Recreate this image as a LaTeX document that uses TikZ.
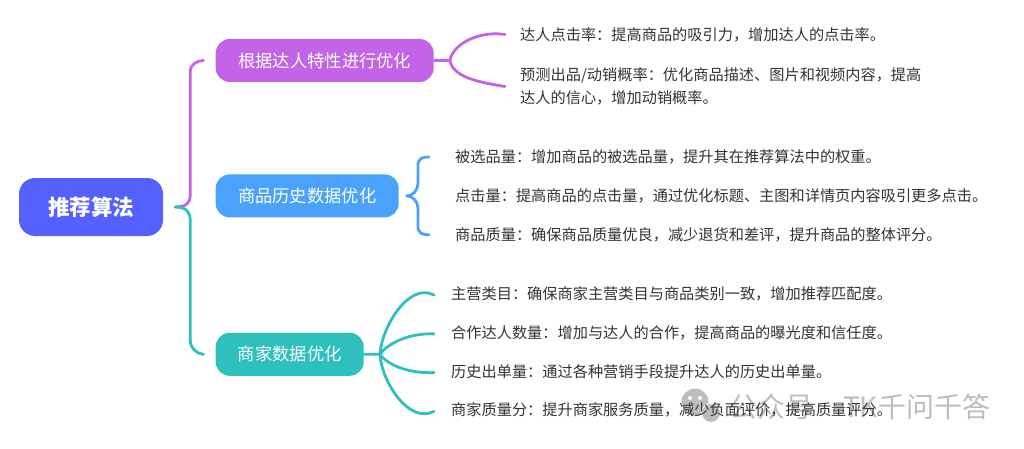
\documentclass[tikz,border=0pt]{standalone}
\usepackage{fontspec}
\setmainfont{Noto Sans CJK SC}
\usetikzlibrary{positioning}
\definecolor{purplebr}{HTML}{C263E8}
\definecolor{bluebr}{HTML}{4AA2FA}
\definecolor{tealbr}{HTML}{2EC0BC}
\definecolor{rootblue}{HTML}{5561FF}
\definecolor{leafgray}{HTML}{333333}
\definecolor{markgray}{HTML}{BDBDBD}
\begin{document}
\begin{tikzpicture}
[x=1pt,y=-1pt,
rootbox/.style={fill=rootblue,text=white,rounded corners=16pt,minimum width=144pt,minimum height=58pt,inner sep=0pt,font=\fontsize{21.5}{26}\selectfont\bfseries},
branchbox/.style={text=white,rounded corners=14pt,minimum height=43pt,inner sep=0pt,font=\fontsize{17.3}{21}\selectfont},
leaf/.style={text=leafgray,inner sep=0pt,align=left,font=\fontsize{15.2}{23}\selectfont},
wire/.style={line width=2.8pt,line cap=round},
bubble/.style={circle,inner sep=0pt,fill=markgray},
mark text/.style={text=markgray,inner sep=0pt,font=\fontsize{28}{32}\selectfont}]
\useasboundingbox (0,0) rectangle (1024,449);
\node[bubble,minimum size=27pt](big) at (695,402){};
\node[bubble,minimum size=4pt,fill=white](eye1) at (690,398){};
\node[bubble,minimum size=4pt,fill=white](eye2) at (700,398){};
\node[bubble,minimum size=19pt,draw=white,line width=1pt](small) at (711,413){};
\node[mark text,anchor=west](m1) at (729,407){公众号};
\node[mark text,anchor=west](m2) at (843,407){TK千问千答};
\node[rootbox](root) at (91,207){推荐算法};
\node[branchbox,fill=purplebr,minimum width=218pt,anchor=west](b1) at (215.5,60.5){根据达人特性进行优化};
\node[branchbox,fill=bluebr,minimum width=183pt,below =92pt of b1.south west,anchor=north west](b2){商品历史数据优化};
\node[branchbox,fill=tealbr,minimum width=148pt,below =115pt of b2.south west,anchor=north west](b3){商家数据优化};
\node[leaf,anchor=west](l1) at (520,34.5){达人点击率：提高商品的吸引力，增加达人的点击率。};
\node[leaf,anchor=west](l2) at (520,86.5){预测出品/动销概率：优化商品描述、图片和视频内容，提高\\达人的信心，增加动销概率。};
\node[leaf,anchor=west](l3) at (455,157){被选品量：增加商品的被选品量，提升其在推荐算法中的权重。};
\node[leaf,below =24pt of l3.south west,anchor=north west](l4){点击量：提高商品的点击量，通过优化标题、主图和详情页内容吸引更多点击。};
\node[leaf,below =24pt of l4.south west,anchor=north west](l5){商品质量：确保商品质量优良，减少退货和差评，提升商品的整体评分。};
\node[leaf,anchor=west](l6) at (451,294){主营类目：确保商家主营类目与商品类别一致，增加推荐匹配度。};
\node[leaf,below =24pt of l6.south west,anchor=north west](l7){合作达人数量：增加与达人的合作，提高商品的曝光度和信任度。};
\node[leaf,below =24pt of l7.south west,anchor=north west](l8){历史出单量：通过各种营销手段提升达人的历史出单量。};
\node[leaf,below =24pt of l8.south west,anchor=north west](l9){商家质量分：提升商家服务质量，减少负面评价，提高质量评分。};
\draw[wire,purplebr] ([xshift=12pt]root.east) .. controls +(11,0) and +(0,8) .. ++(15,-12) -- ++(0,-123) .. controls +(0,-8) and +(-6,0) .. ([xshift=-12pt]b1.west);
\draw[wire,tealbr] ([xshift=12pt]root.east) .. controls +(11,0) and +(0,-8) .. ++(15,13) -- ++(0,120) .. controls +(0,8) and +(-6,0) .. ([xshift=-12pt]b3.west);
\draw[wire,purplebr] (b1.east) -- ++(16,0) coordinate (s1) .. controls +(3,-17) and +(-25,-4) .. ([xshift=-15pt]l1.west);
\draw[wire,purplebr] (s1) .. controls +(3,17) and +(-25,-4) .. ([xshift=-15pt]l2.west);
\draw[wire,bluebr] ([xshift=8pt]b2.east) .. controls +(6,0) and +(0,6) .. ++(11,-12) -- ++(0,-18) .. controls +(0,-8) and +(-6,0) .. ([xshift=-26pt]l3.west);
\draw[wire,bluebr] ([xshift=8pt]b2.east) .. controls +(6,0) and +(0,-6) .. ++(11,12) -- ++(0,18) .. controls +(0,8) and +(-6,0) .. ([xshift=-26pt]l5.west);
\draw[wire,tealbr] (b3.east) -- ++(16,0) coordinate (s3) .. controls +(2,-28) and +(-25,-13) .. ([xshift=-17pt,yshift=-1pt]l6.west);
\draw[wire,tealbr] (s3) .. controls +(8,-11) and +(-25,-1) .. ([xshift=-17pt,yshift=-1pt]l7.west);
\draw[wire,tealbr] (s3) .. controls +(8,11) and +(-25,1) .. ([xshift=-17pt,yshift=-1pt]l8.west);
\draw[wire,tealbr] (s3) .. controls +(2,28) and +(-25,13) .. ([xshift=-17pt,yshift=-1pt]l9.west);
\end{tikzpicture}
\end{document}
